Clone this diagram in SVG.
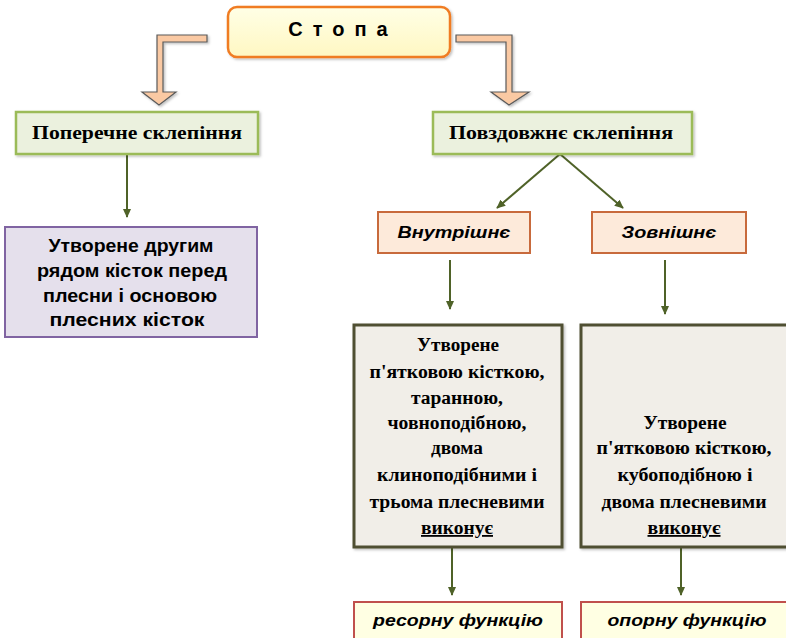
<svg xmlns="http://www.w3.org/2000/svg" width="786" height="638" viewBox="0 0 786 638">
<defs>
  <linearGradient id="gStopa" x1="0" y1="0" x2="0" y2="1">
    <stop offset="0" stop-color="#FFFFE6"/>
    <stop offset="1" stop-color="#FFF7C2"/>
  </linearGradient>
  <marker id="ah" viewBox="0 0 10 10" refX="9" refY="5" markerWidth="9" markerHeight="9" orient="auto" markerUnits="userSpaceOnUse">
    <path d="M0,0.5 L10,5 L0,9.5 z" fill="#4F6228"/>
  </marker>
  <filter id="sh" x="-10%" y="-10%" width="130%" height="130%">
    <feDropShadow dx="1.5" dy="1.5" stdDeviation="1" flood-color="#000" flood-opacity="0.25"/>
  </filter>
</defs>
<style>
  .conn { stroke: #4F6228; stroke-width: 2; fill: none; }
  .bent { fill: #FAC9A3; stroke: #5A5A5A; stroke-width: 1.2; stroke-linejoin: miter; }
  .green { fill: #EBF1DE; stroke: #9BBB59; stroke-width: 2.5; }
  .purple { fill: #E5E0EC; stroke: #8064A2; stroke-width: 2; }
  .peach { fill: #FDEADA; stroke: #C86A3C; stroke-width: 2; }
  .big { fill: #F1EEE8; stroke: #4F4F33; stroke-width: 3; }
  .yel { fill: #FFFFE3; stroke: #C0504D; stroke-width: 2; }
  .serif { font-family: "Liberation Serif", "DejaVu Serif", serif; font-weight: bold; font-size: 18px; fill: #000; text-anchor: middle; }
  .sans { font-family: "Liberation Sans", Arial, sans-serif; font-weight: bold; font-size: 18px; fill: #000; text-anchor: middle; }
  .ital { font-family: "Liberation Sans", Arial, sans-serif; font-weight: bold; font-style: italic; font-size: 17px; fill: #000; text-anchor: middle; }
</style>
<rect width="786" height="638" fill="#FFFFFF"/>

<g id="connectors">
  <polygon class="bent" filter="url(#sh)" points="207,35 157,35 157,92 142,92 159,105 176,92 163,92 163,42 207,42"/>
  <polygon class="bent" filter="url(#sh)" points="456,35 512,35 512,92 529,92 509,105 491,92 506,92 506,42 456,42"/>
  <line class="conn" x1="127" y1="155" x2="127" y2="217" marker-end="url(#ah)"/>
  <line class="conn" x1="560" y1="154" x2="497" y2="208" marker-end="url(#ah)"/>
  <line class="conn" x1="560" y1="154" x2="623" y2="208" marker-end="url(#ah)"/>
  <line class="conn" x1="450" y1="260" x2="450" y2="309" marker-end="url(#ah)"/>
  <line class="conn" x1="665" y1="260" x2="665" y2="314" marker-end="url(#ah)"/>
  <line class="conn" x1="452" y1="548" x2="452" y2="595" marker-end="url(#ah)"/>
  <line class="conn" x1="681" y1="548" x2="681" y2="595" marker-end="url(#ah)"/>
</g>

<g id="stopa">
  <rect x="228" y="7" width="222" height="50" rx="9" fill="url(#gStopa)" stroke="#F07C24" stroke-width="2.5" filter="url(#sh)"/>
  <text x="343" y="36" font-family="Liberation Sans, Arial, sans-serif" font-weight="bold" font-size="20" letter-spacing="10" text-anchor="middle">Стопа</text>
</g>

<g id="poperechne">
  <rect class="green" x="16" y="112" width="242" height="42" filter="url(#sh)"/>
  <text class="serif" x="137" y="139" textLength="210" lengthAdjust="spacingAndGlyphs">Поперечне склепіння</text>
</g>

<g id="povzdovzhne">
  <rect class="green" x="433" y="112" width="259" height="42" filter="url(#sh)"/>
  <text class="serif" x="561" y="139" textLength="224" lengthAdjust="spacingAndGlyphs">Повздовжнє склепіння</text>
</g>

<g id="utvorene-druhym">
  <rect class="purple" x="5" y="227" width="252" height="110"/>
  <text class="sans" x="131" y="252" textLength="165" lengthAdjust="spacingAndGlyphs">Утворене другим</text>
  <text class="sans" x="132" y="277" textLength="190" lengthAdjust="spacingAndGlyphs">рядом кісток перед</text>
  <text class="sans" x="130" y="302" textLength="174" lengthAdjust="spacingAndGlyphs">плесни і основою</text>
  <text class="sans" x="127" y="326" textLength="155" lengthAdjust="spacingAndGlyphs">плесних кісток</text>
</g>

<g id="vnutrishne">
  <rect class="peach" x="378" y="212" width="152" height="41"/>
  <text class="ital" x="454" y="238" textLength="113" lengthAdjust="spacingAndGlyphs">Внутрішнє</text>
</g>

<g id="zovnishne">
  <rect class="peach" x="592" y="212" width="154" height="41"/>
  <text class="ital" x="669" y="238" textLength="95" lengthAdjust="spacingAndGlyphs">Зовнішнє</text>
</g>

<g id="utvorene-vnutr">
  <rect class="big" x="354" y="325" width="208" height="222" filter="url(#sh)"/>
  <text class="serif" x="458" y="351" textLength="82" lengthAdjust="spacingAndGlyphs">Утворене</text>
  <text class="serif" x="457" y="378" textLength="175" lengthAdjust="spacingAndGlyphs">п'ятковою кісткою,</text>
  <text class="serif" x="457" y="404" textLength="92" lengthAdjust="spacingAndGlyphs">таранною,</text>
  <text class="serif" x="457" y="429" textLength="139" lengthAdjust="spacingAndGlyphs">човноподібною,</text>
  <text class="serif" x="457" y="454" textLength="52" lengthAdjust="spacingAndGlyphs">двома</text>
  <text class="serif" x="457" y="481" textLength="160" lengthAdjust="spacingAndGlyphs">клиноподібними і</text>
  <text class="serif" x="457" y="508" textLength="175" lengthAdjust="spacingAndGlyphs">трьома плесневими</text>
  <text class="serif" x="457" y="534" textLength="72" lengthAdjust="spacingAndGlyphs" text-decoration="underline">виконує</text>
</g>

<g id="utvorene-zovn">
  <rect class="big" x="581" y="325" width="215" height="222" filter="url(#sh)"/>
  <text class="serif" x="685" y="429" textLength="83" lengthAdjust="spacingAndGlyphs">Утворене</text>
  <text class="serif" x="684" y="454" textLength="175" lengthAdjust="spacingAndGlyphs">п'ятковою кісткою,</text>
  <text class="serif" x="685" y="481" textLength="135" lengthAdjust="spacingAndGlyphs">кубоподібною і</text>
  <text class="serif" x="684" y="508" textLength="165" lengthAdjust="spacingAndGlyphs">двома плесневими</text>
  <text class="serif" x="684" y="534" textLength="73" lengthAdjust="spacingAndGlyphs" text-decoration="underline">виконує</text>
</g>

<g id="resorna">
  <rect class="yel" x="354" y="602" width="208" height="45"/>
  <text class="ital" x="458" y="626" textLength="170" lengthAdjust="spacingAndGlyphs">ресорну функцію</text>
</g>

<g id="oporna">
  <rect class="yel" x="581" y="602" width="215" height="45"/>
  <text class="ital" x="687" y="626" textLength="159" lengthAdjust="spacingAndGlyphs">опорну функцію</text>
</g>
</svg>
